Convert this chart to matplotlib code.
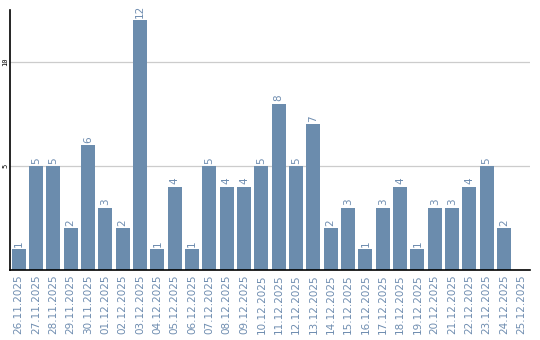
import matplotlib
matplotlib.use("Agg")
import matplotlib.pyplot as plt

dates = ["26.11.2025", "27.11.2025", "28.11.2025", "29.11.2025", "30.11.2025",
         "01.12.2025", "02.12.2025", "03.12.2025", "04.12.2025", "05.12.2025",
         "06.12.2025", "07.12.2025", "08.12.2025", "09.12.2025", "10.12.2025",
         "11.12.2025", "12.12.2025", "13.12.2025", "14.12.2025", "15.12.2025",
         "16.12.2025", "17.12.2025", "18.12.2025", "19.12.2025", "20.12.2025",
         "21.12.2025", "22.12.2025", "23.12.2025", "24.12.2025", "25.12.2025"]
counts = [1, 5, 5, 2, 6, 3, 2, 12, 1, 4, 1, 5, 4, 4, 5, 8, 5, 7, 2, 3,
          1, 3, 4, 1, 3, 3, 4, 5, 2, 0]
yticks = [5, 10]

bar_color = "#6b8cad"
text_color = "#6f8db0"

fig = plt.figure(figsize=(5.4, 3.4), dpi=100)
ax = fig.add_axes([10/540, 70/340, 520/540, 260/340])

x = list(range(len(dates)))
ax.bar(x, counts, width=0.82, color=bar_color, zorder=2)
for xi, v in zip(x, counts):
    if v > 0:
        ax.text(xi, v + 0.12, str(v), rotation=90, ha="center", va="bottom",
                fontsize=7.5, color=text_color)

ax.set_xlim(-0.5, len(dates) - 0.5)
ax.set_ylim(0, 12.5)
ax.set_yticks(yticks)
ax.set_yticklabels([str(t) for t in yticks], rotation=90, va="center",
                   fontsize=5, family="DejaVu Sans Mono")
ax.set_xticks(x)
ax.set_xticklabels(dates, rotation=90, fontsize=7.5, color=text_color)
ax.tick_params(axis="both", length=0, pad=3)
ax.tick_params(axis="y", pad=1)
ax.grid(axis="y", color="#cccccc", linewidth=0.9, zorder=0)
for s in ["top", "right"]:
    ax.spines[s].set_visible(False)
ax.spines["left"].set_color("black")
ax.spines["bottom"].set_color("black")
ax.spines["left"].set_linewidth(1.2)
ax.spines["bottom"].set_linewidth(1.2)

fig.savefig("out.png", dpi=100)
